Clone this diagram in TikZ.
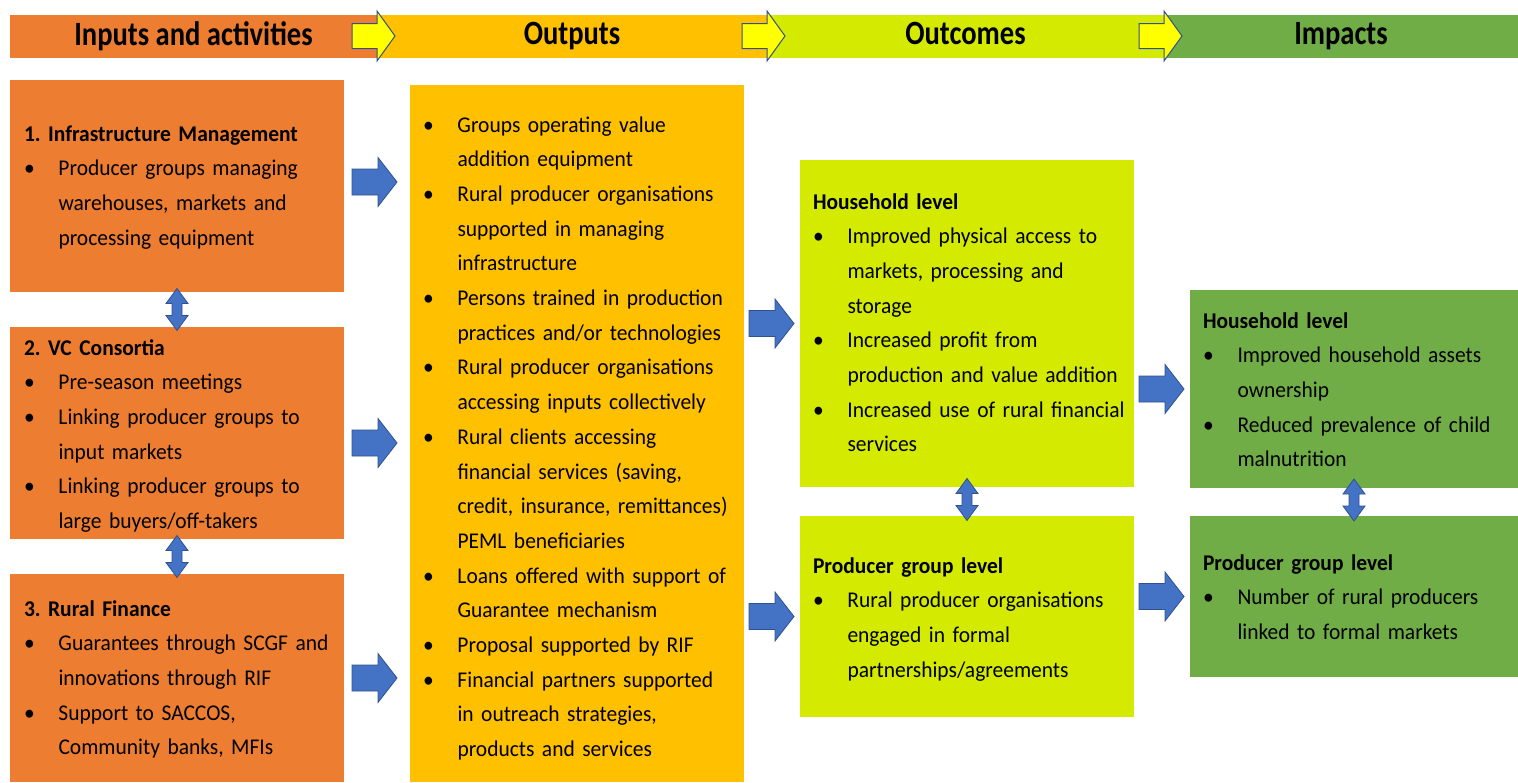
\documentclass[tikz,border=0pt]{standalone}
\usepackage{fontspec}
\setmainfont{Carlito}[FakeStretch=0.955]
\newfontfamily\hdrfont{Carlito}[FakeStretch=0.84]
\usetikzlibrary{calc}

\definecolor{cOrange}{RGB}{237,125,49}
\definecolor{cGold}{RGB}{255,192,0}
\definecolor{cLime}{RGB}{212,234,0}
\definecolor{cGreen}{RGB}{112,173,71}
\definecolor{cBlue}{RGB}{68,114,196}
\definecolor{cBlueLine}{RGB}{47,82,143}
\definecolor{cYellow}{RGB}{255,255,0}

% bullet item with hanging indent; lines inside an item break with \newline
\newcommand\bitem[1]{\hangindent=34.5pt\hangafter=1\noindent\makebox[34.5pt][l]{\textbullet}#1\par}
\newcommand\btitle[1]{\noindent\textbf{#1}\par}
\newcommand\hdrtext[1]{{\hdrfont\fontsize{34}{40}\selectfont\bfseries\vphantom{Ip}#1}}

\tikzset{
  box/.style={anchor=north west, inner sep=0pt, outer sep=0pt, draw=none},
  hdr/.style={anchor=west, inner sep=0pt, outer sep=0pt, minimum height=43pt, draw=none},
  txt/.style={anchor=base west, inner sep=0pt, outer sep=0pt, text width=340pt,
    font=\fontsize{22.5}{34.7}\selectfont\raggedright\frenchspacing},
  blockarrow/.style={fill=cBlue, draw=cBlueLine, line width=0.8pt, line join=miter},
  hdrarrow/.style={fill=cYellow, draw=cBlueLine, line width=1pt, line join=miter},
  rblk/.pic={\draw[blockarrow] (-23,-13) -- (3,-13) -- (3,-24.5) -- (22,0) -- (3,24.5) -- (3,13) -- (-23,13) -- cycle;},
  vblk/.pic={\draw[blockarrow] (0,-21) -- (11,-6) -- (5,-6) -- (5,6) -- (11,6) -- (0,21) -- (-11,6) -- (-5,6) -- (-5,-6) -- (-11,-6) -- cycle;},
  hblk/.pic={\draw[hdrarrow] (-25,-12.5) -- (0,-12.5) -- (0,-25) -- (18,0) -- (0,25) -- (0,12.5) -- (-25,12.5) -- cycle;},
}

\begin{document}
\begin{tikzpicture}[x=1pt, y=-1pt]
\useasboundingbox (0,0) rectangle (1518,782);

% header band
\node[hdr, fill=cOrange, minimum width=367pt] (h1) at (10,36) {\hdrtext{Inputs and activities}};
\node[hdr, fill=cGold,   minimum width=390pt] (h2) at (h1.east) {\hdrtext{Outputs}};
\node[hdr, fill=cLime,   minimum width=397pt] (h3) at (h2.east) {\hdrtext{Outcomes}};
\node[hdr, fill=cGreen,  minimum width=354pt] (h4) at (h3.east) {\hdrtext{Impacts}};
\pic at (h1.east) {hblk};
\pic at (h2.east) {hblk};
\pic at (h3.east) {hblk};

% inputs and activities
\node[box, fill=cOrange, minimum width=334pt, minimum height=212pt] (in1) at (10,80) {};
\node[box, fill=cOrange, minimum width=334pt, minimum height=212pt] (in2) at (10,327) {};
\node[box, fill=cOrange, minimum width=334pt, minimum height=208pt] (in3) at (10,574) {};
% outputs
\node[box, fill=cGold, minimum width=334pt, minimum height=697pt] (out) at (410,85) {};
% outcomes
\node[box, fill=cLime, minimum width=334pt, minimum height=327pt] (oc1) at (800,160) {};
\node[box, fill=cLime, minimum width=334pt, minimum height=201pt] (oc2) at (800,516) {};
% impacts
\node[box, fill=cGreen, minimum width=328pt, minimum height=198pt] (im1) at (1190,290) {};
\node[box, fill=cGreen, minimum width=328pt, minimum height=161pt] (im2) at (1190,516) {};

% texts
\node[txt] (t1) at (24,141) {\btitle{1. Infrastructure Management}
  \bitem{Producer groups managing\newline warehouses, markets and\newline processing equipment}};
\node[txt] (t2) at (24,355) {\btitle{2. VC Consortia}
  \bitem{Pre-season meetings}
  \bitem{Linking producer groups to\newline input markets}
  \bitem{Linking producer groups to\newline large buyers/off-takers}};
\node[txt] (t3) at (24,616) {\btitle{3. Rural Finance}
  \bitem{Guarantees through SCGF and\newline innovations through RIF}
  \bitem{Support to SACCOS,\newline Community banks, MFIs}};
\node[txt] (t4) at (423,132) {\bitem{Groups operating value\newline addition equipment}
  \bitem{Rural producer organisations\newline supported in managing\newline infrastructure}
  \bitem{Persons trained in production\newline practices and/or technologies}
  \bitem{Rural producer organisations\newline accessing inputs collectively}
  \bitem{Rural clients accessing\newline financial services (saving,\newline credit, insurance, remittances)\newline PEML beneficiaries}
  \bitem{Loans offered with support of\newline Guarantee mechanism}
  \bitem{Proposal supported by RIF}
  \bitem{Financial partners supported\newline in outreach strategies,\newline products and services}};
\node[txt] (t5) at (813,209) {\btitle{Household level}
  \bitem{Improved physical access to\newline markets, processing and\newline storage}
  \bitem{Increased profit from\newline production and value addition}
  \bitem{Increased use of rural financial\newline services}};
\node[txt] (t6) at (813,573) {\btitle{Producer group level}
  \bitem{Rural producer organisations\newline engaged in formal\newline partnerships/agreements}};
\node[txt] (t7) at (1203,328) {\btitle{Household level}
  \bitem{Improved household assets\newline ownership}
  \bitem{Reduced prevalence of child\newline malnutrition}};
\node[txt] (t8) at (1203,570) {\btitle{Producer group level}
  \bitem{Number of rural producers\newline linked to formal markets}};

% arrows between columns
\pic at ($(in1.east)!0.5!(in1.east -| out.west)+(-2,-4)$) {rblk};
\pic at ($(in2.east)!0.5!(in2.east -| out.west)+(-2,10)$) {rblk};
\pic at ($(in3.east)!0.5!(in3.east -| out.west)+(-2,0)$) {rblk};
\pic at ($(oc1.west)!0.5!(oc1.west -| out.east)+(0,0)$) {rblk};
\pic at ($(oc2.west)!0.5!(oc2.west -| out.east)+(0,0)$) {rblk};
\pic at ($(im1.west)!0.5!(im1.west -| oc1.east)+(0,0)$) {rblk};
\pic at ($(im2.west)!0.5!(im2.west -| oc1.east)+(0,0)$) {rblk};

% links within columns
\pic at ($(in1.south)!0.5!(in2.north)$) {vblk};
\pic at ($(in2.south)!0.5!(in3.north)$) {vblk};
\pic at ($(oc1.south)!0.5!(oc2.north)+(0,-2)$) {vblk};
\pic at ($(im1.south)!0.5!(im2.north)+(0,-2)$) {vblk};
\end{tikzpicture}
\end{document}
